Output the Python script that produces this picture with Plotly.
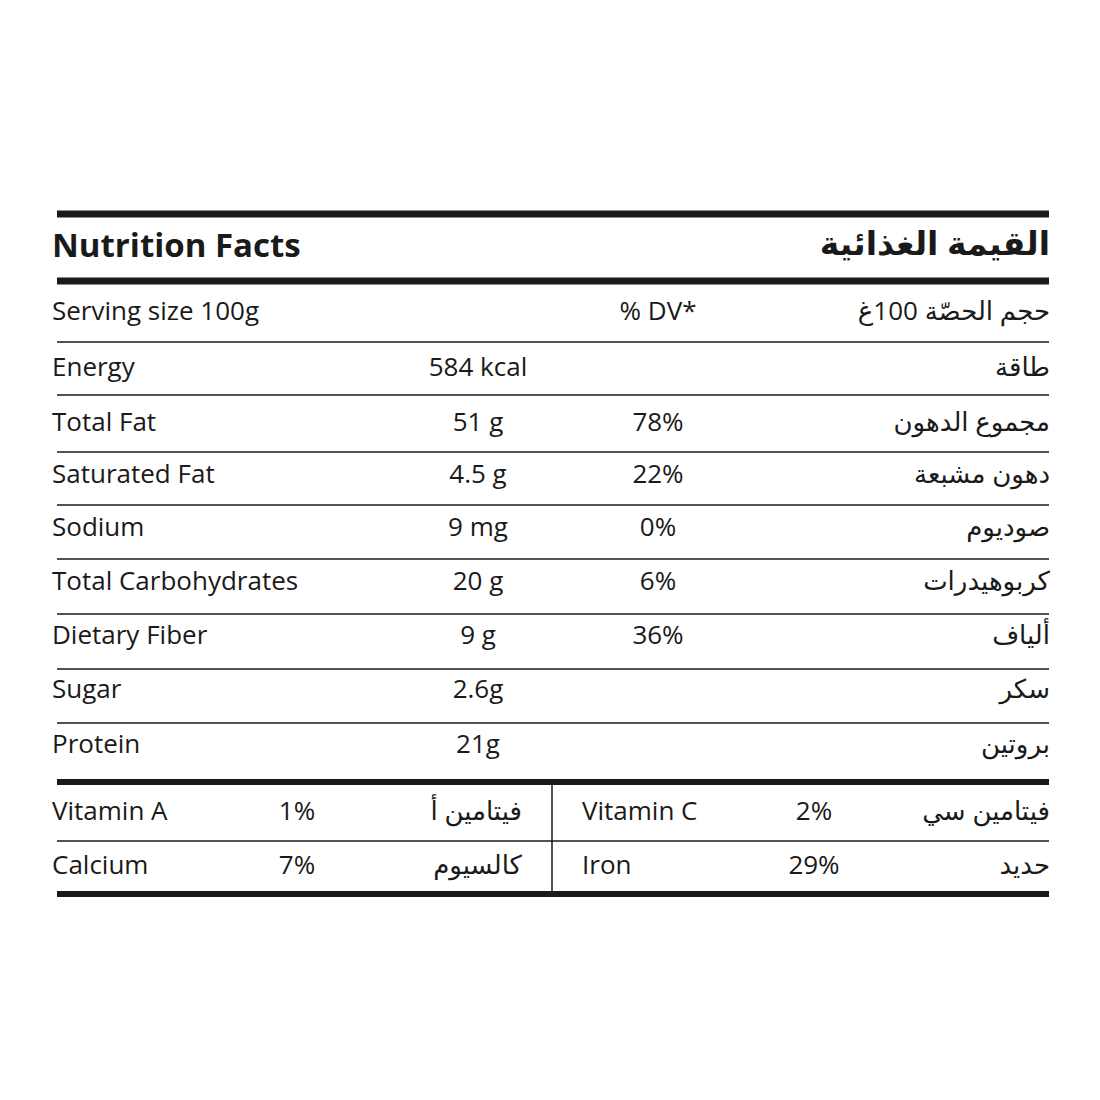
import plotly.graph_objects as go

# main table rows
labels_en = ["Energy", "Total Fat", "Saturated Fat", "Sodium", "Total Carbohydrates",
             "Dietary Fiber", "Sugar", "Protein"]
labels_ar = ["طاقة", "مجموع الدهون", "دهون مشبعة", "صوديوم", "كربوهيدرات",
             "ألياف", "سكر", "بروتين"]
amounts = ["584 kcal", "51 g", "4.5 g", "9 mg", "20 g", "9 g", "2.6g", "21g"]
dv = ["", "78%", "22%", "0%", "6%", "36%", "", ""]

# vitamins / minerals (2 x 2)
vit_en = ["Vitamin A", "Calcium", "Vitamin C", "Iron"]
vit_ar = ["فيتامين أ", "كالسيوم", "فيتامين سي", "حديد"]
vit_dv = ["1%", "7%", "2%", "29%"]

row_y = [368, 423, 475, 528, 582, 636, 690, 745]
vit_y = [812, 866, 812, 866]
vit_x0 = [57, 57, 587, 587]
vit_xv = [297, 297, 814, 814]
vit_xa = [517, 517, 1045, 1045]

font = "Open Sans, DejaVu Sans"
fs = 26
black = "#1a1a1a"

fig = go.Figure()

def txt(x, y, t, pos, size=fs, bold=False):
    fig.add_trace(go.Scatter(
        x=x, y=y, text=[f"<b>{s}</b>" if bold else s for s in t], mode="text",
        textposition=pos, textfont=dict(family=font, size=size, color=black),
        hoverinfo="skip", showlegend=False))

txt([52], [248], ["Nutrition Facts"], "middle right", 33, True)
txt([1050], [246], ["القيمة الغذائية"], "middle left", 33, True)
txt([52], [312], ["Serving size 100g"], "middle right")
txt([658], [312], ["% DV*"], "middle center")
txt([1050], [312], ["حجم الحصّة 100غ"], "middle left")

txt([52] * len(labels_en), row_y, labels_en, "middle right")
txt([478] * len(amounts), row_y, amounts, "middle center")
txt([658] * len(dv), row_y, dv, "middle center")
txt([1050] * len(labels_ar), row_y, labels_ar, "middle left")

txt([x - 5 for x in vit_x0], vit_y, vit_en, "middle right")
txt(vit_xv, vit_y, vit_dv, "middle center")
txt([x + 5 for x in vit_xa], vit_y, vit_ar, "middle left")

def hline(y, w):
    fig.add_shape(type="line", x0=57, x1=1049, y0=y, y1=y, line=dict(color=black, width=w))

hline(213, 7)
hline(280, 7)
hline(341, 1.5)
for y in [394, 451, 504, 558, 613, 668, 722, 840]:
    hline(y, 1.5)
hline(781, 6)
hline(893, 6)
fig.add_shape(type="line", x0=552, x1=552, y0=781, y1=890, line=dict(color=black, width=1.5))

fig.update_layout(
    width=1100, height=1100, margin=dict(l=0, r=0, t=0, b=0),
    paper_bgcolor="white", plot_bgcolor="white",
    xaxis=dict(range=[8, 1108], visible=False, fixedrange=True),
    yaxis=dict(range=[1107, 7], visible=False, fixedrange=True),
)
fig.write_html("out.html")
